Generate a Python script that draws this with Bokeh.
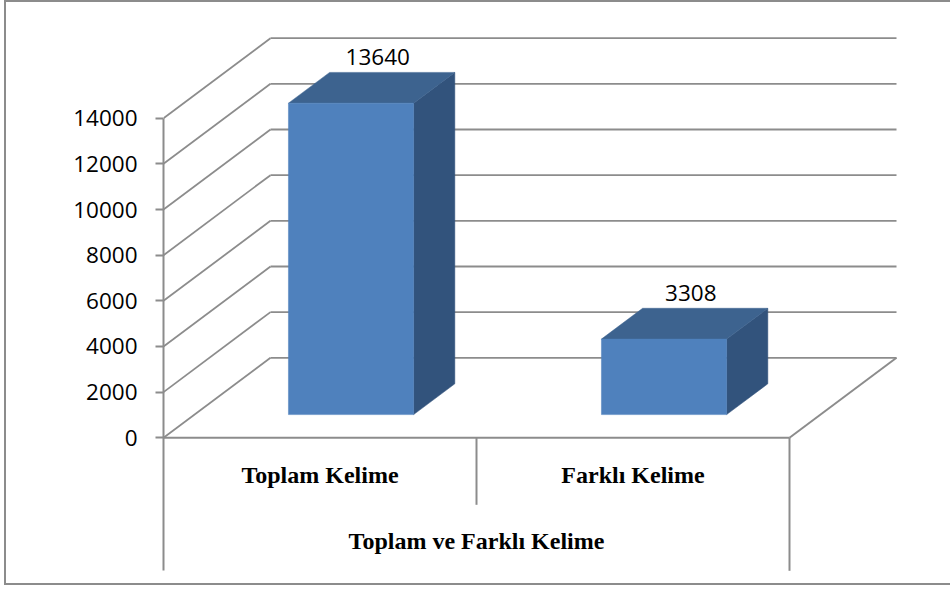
from bokeh.plotting import figure
from bokeh.models import Range1d, FixedTicker, LinearAxis
from bokeh.core.properties import value
from bokeh.embed import file_html
from bokeh.resources import INLINE

# ---- data ----
categories = ["Toplam Kelime", "Farklı Kelime"]
counts = [13640, 3308]
group_name = "Toplam ve Farklı Kelime"
y_ticks = [0, 2000, 4000, 6000, 8000, 10000, 12000, 14000]

# ---- layout constants (pixels) ----
W, H = 946, 585
LEFT = 157
FRAME_W = W - LEFT
FRAME_H = H
PX_PER_CAT = 313.0
PX_PER_UNIT = 45.66 / 2000.0
ZERO_PX = 435.3            # value 0 (front) measured from frame top
DEPTH_PX = (107.0, 80.0)   # perspective shift front -> back
ROW1_PX = 67               # category row bottom below zero line
ROW2_PX = 133              # group row bottom below zero line
TEXT_FIX = 8               # baseline correction for rendered text
CAT_BASE_PX = 45 - TEXT_FIX
GROUP_BASE_PX = 111 - TEXT_FIX
LABEL_GAP_PX = 7 + TEXT_FIX
BAR_HALF = 0.2
D0, D1 = 0.29, 0.675
DLAB = 0.54
GRAY = "#8c8c8c"
FRONT = "#4f81bd"
TOP = "#3d638f"
SIDE = "#32537c"

DX = DEPTH_PX[0] / PX_PER_CAT
DY = DEPTH_PX[1] / PX_PER_UNIT


def below(px):
    return -px / PX_PER_UNIT


p = figure(width=W, height=H,
           x_range=Range1d(0, FRAME_W / PX_PER_CAT),
           y_range=Range1d(-(FRAME_H - ZERO_PX) / PX_PER_UNIT, ZERO_PX / PX_PER_UNIT),
           output_backend="svg", toolbar_location=None,
           x_axis_location=None, y_axis_location=None,
           min_border_left=LEFT, min_border_right=0,
           min_border_top=0, min_border_bottom=0)
p.outline_line_color = None
p.grid.grid_line_color = None
p.background_fill_color = "white"
p.border_fill_color = "white"
p.styles = {"margin-left": "4px",
            "border-left": "2px solid #8c8c8c",
            "border-top": "2px solid #8c8c8c",
            "border-bottom": "2px solid #8c8c8c"}

n = len(categories)

# back wall gridlines
p.segment(x0=[DX] * len(y_ticks), x1=[n + DX] * len(y_ticks),
          y0=[t + DY for t in y_ticks], y1=[t + DY for t in y_ticks],
          line_color=GRAY, line_width=1.8)
# side wall diagonals
p.segment(x0=[0] * len(y_ticks), x1=[DX] * len(y_ticks),
          y0=y_ticks, y1=[t + DY for t in y_ticks],
          line_color=GRAY, line_width=1.8)
# floor front and right edges
p.segment(x0=[0, n], x1=[n, n + DX], y0=[0, 0], y1=[0, DY],
          line_color=GRAY, line_width=2)
# category box lines
p.segment(x0=list(range(1, n)) + [n], x1=list(range(1, n)) + [n],
          y0=[0] * n, y1=[below(ROW1_PX)] * (n - 1) + [below(ROW2_PX)],
          line_color=GRAY, line_width=2)

# bars
front_xs, front_ys, top_xs, top_ys, side_xs, side_ys = [], [], [], [], [], []
for i, v in enumerate(counts):
    c = i + 0.5
    l, r = c - BAR_HALF, c + BAR_HALF
    front_xs.append([l + D0 * DX, r + D0 * DX, r + D0 * DX, l + D0 * DX])
    front_ys.append([D0 * DY, D0 * DY, v + D0 * DY, v + D0 * DY])
    top_xs.append([l + D0 * DX, r + D0 * DX, r + D1 * DX, l + D1 * DX])
    top_ys.append([v + D0 * DY, v + D0 * DY, v + D1 * DY, v + D1 * DY])
    side_xs.append([r + D0 * DX, r + D1 * DX, r + D1 * DX, r + D0 * DX])
    side_ys.append([D0 * DY, D1 * DY, v + D1 * DY, v + D0 * DY])
p.patches(side_xs, side_ys, fill_color=SIDE, line_color=SIDE, line_width=0.5)
p.patches(top_xs, top_ys, fill_color=TOP, line_color=TOP, line_width=0.5)
p.patches(front_xs, front_ys, fill_color=FRONT, line_color=FRONT, line_width=0.5)

# data labels
p.text(x=[i + 0.5 + DLAB * DX for i in range(n)],
       y=[v + D1 * DY + LABEL_GAP_PX / PX_PER_UNIT for v in counts],
       text=[str(v) for v in counts],
       text_align="center", text_baseline="alphabetic",
       text_font=value("Open Sans"), text_font_size="22.5px", text_color="black")

# category labels
p.text(x=[i + 0.5 for i in range(n)], y=[below(CAT_BASE_PX)] * n, text=categories,
       text_align="center", text_baseline="alphabetic",
       text_font=value("Liberation Serif"), text_font_style="bold",
       text_font_size="24px", text_color="black")
p.text(x=[n / 2.0], y=[below(GROUP_BASE_PX)], text=[group_name],
       text_align="center", text_baseline="alphabetic",
       text_font=value("Liberation Serif"), text_font_style="bold",
       text_font_size="24px", text_color="black")

# value axis
yaxis = LinearAxis(ticker=FixedTicker(ticks=y_ticks, minor_ticks=[]),
                   bounds=(below(ROW2_PX), y_ticks[-1]))
yaxis.axis_line_color = GRAY
yaxis.axis_line_width = 2
yaxis.major_tick_line_color = GRAY
yaxis.major_tick_line_width = 2
yaxis.major_tick_out = 8
yaxis.major_tick_in = 0
yaxis.minor_tick_line_color = None
yaxis.major_label_text_font = "Open Sans"
yaxis.major_label_text_font_size = "22.5px"
yaxis.major_label_text_color = "black"
yaxis.major_label_standoff = 18
p.add_layout(yaxis, "left")

open("out.html", "w").write(file_html(p, INLINE))
